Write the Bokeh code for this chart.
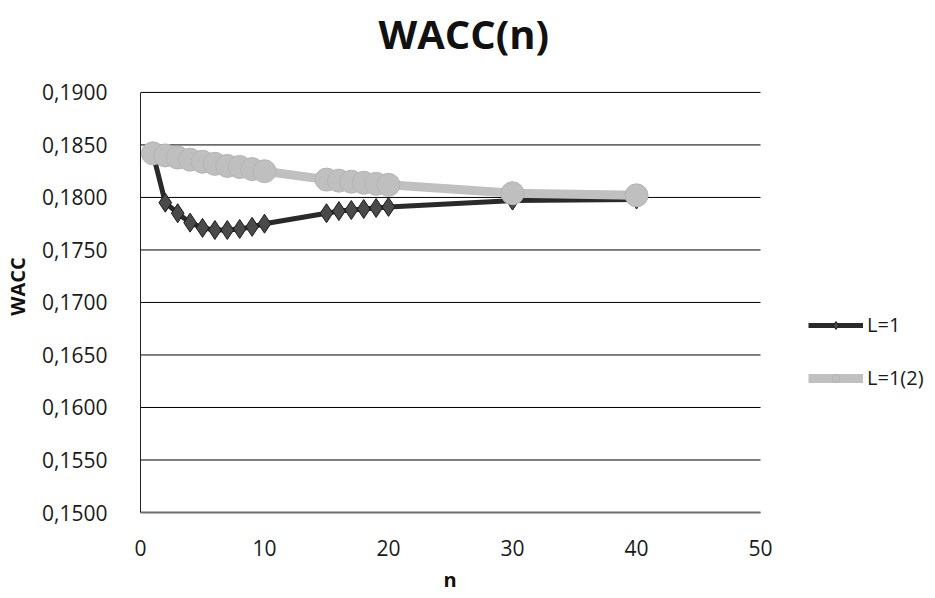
from bokeh.plotting import figure
from bokeh.models import Range1d, FixedTicker, CustomJSTickFormatter, Legend, LegendItem, Title
from bokeh.embed import file_html
from bokeh.resources import INLINE

# WACC as a function of n for two leverage settings
n_values = [1, 2, 3, 4, 5, 6, 7, 8, 9, 10, 15, 16, 17, 18, 19, 20, 30, 40]
wacc_l1 = [0.1842, 0.1795, 0.1785, 0.1776, 0.1771, 0.1769, 0.1769, 0.1770, 0.1772,
           0.1775, 0.1785, 0.1787, 0.1788, 0.1789, 0.1790, 0.1791, 0.1797, 0.1798]
wacc_l1_2 = [0.1842, 0.1840, 0.1838, 0.1836, 0.1834, 0.1832, 0.1830, 0.1829, 0.1827,
             0.1825, 0.1817, 0.1816, 0.1815, 0.1814, 0.1813, 0.1812, 0.1804, 0.1802]
series_names = ["L=1", "L=1(2)"]
y_ticks = [0.150, 0.155, 0.160, 0.165, 0.170, 0.175, 0.180, 0.185, 0.190]
x_ticks = [0, 10, 20, 30, 40, 50]
x_min, x_max = 0, 50
y_min, y_max = 0.15, 0.19

FONT = "Open Sans"

# The frame reaches the right edge (room for the legend) and extends up to the
# title; axis and grid lines are bounded to the 0..50 / 0.15..0.19 box.
p = figure(width=935, height=598, output_backend="svg", toolbar_location=None,
           x_range=Range1d(x_min, 64.11), y_range=Range1d(y_min, 0.19304),
           min_border_left=140, min_border_right=0,
           min_border_top=60, min_border_bottom=85,
           title="WACC(n)")

p.title.text_font = FONT
p.title.text_font_size = "40px"
p.title.text_font_style = "bold"
p.title.text_color = "#111111"
p.title.align = "left"
p.title.offset = 238
p.title.standoff = 0

p.outline_line_color = None
p.background_fill_color = "white"
p.border_fill_color = "white"

# axes
p.xaxis.ticker = FixedTicker(ticks=x_ticks)
p.yaxis.ticker = FixedTicker(ticks=y_ticks)
p.xaxis.bounds = (x_min, x_max)
p.yaxis.bounds = (y_min, y_max)
p.yaxis.formatter = CustomJSTickFormatter(code="return tick.toFixed(4).replace('.', ',');")
for ax in (p.xaxis[0], p.yaxis[0]):
    ax.major_label_text_font = FONT
    ax.major_label_text_font_size = "21px"
    ax.major_label_text_color = "#1a1a1a"
    ax.axis_label_text_font = FONT
    ax.axis_label_text_font_size = "20px"
    ax.axis_label_text_font_style = "bold"
    ax.axis_label_text_color = "#111111"
    ax.major_tick_line_color = None
    ax.minor_tick_line_color = None

p.yaxis.axis_label = "WACC"
p.xaxis.axis_line_color = "#6e6e6e"
p.xaxis.axis_line_width = 2
p.yaxis.axis_line_color = "#222222"
p.yaxis.axis_line_width = 1
p.xaxis.major_label_standoff = 21
p.yaxis.major_label_standoff = 27
p.yaxis.axis_label_standoff = 8

# x axis title, centred under the 0..50 span
x_title = Title(text="n", align="left", offset=303, standoff=11,
                text_font=FONT, text_font_size="20px", text_font_style="bold",
                text_color="#111111")
p.add_layout(x_title, "below")

# horizontal gridlines across the 0..50 span only
p.xgrid.grid_line_color = None
p.ygrid.grid_line_color = None
p.segment(x0=[x_min] * len(y_ticks), x1=[x_max] * len(y_ticks), y0=y_ticks, y1=y_ticks,
          line_color="#000000", line_width=1)

# series L=1: dark line with diamonds
r1_line = p.line(n_values, wacc_l1, line_color="#2a2a2a", line_width=5, line_join="round")
r1_pts = p.scatter(n_values, wacc_l1, marker="diamond", size=19,
                   fill_color="#4a4a4a", line_color="#1c1c1c", line_width=1)

# series L=1(2): light line with circles
r2_line = p.line(n_values, wacc_l1_2, line_color="#c0c0c0", line_width=9, line_join="round")
r2_pts = p.scatter(n_values, wacc_l1_2, marker="circle", size=23,
                   fill_color="#bfbfbf", line_color="#b4b4b4", line_width=1)

legend = Legend(items=[
    LegendItem(label=series_names[0], renderers=[r1_line, r1_pts]),
    LegendItem(label=series_names[1], renderers=[r2_line, r2_pts]),
], location=(668, 121))
legend.label_text_font = FONT
legend.label_text_font_size = "20px"
legend.label_text_color = "#1a1a1a"
legend.glyph_width = 55
legend.glyph_height = 20
legend.label_height = 20
legend.label_standoff = 4
legend.spacing = 26
legend.padding = 0
legend.margin = 0
legend.border_line_color = None
legend.background_fill_alpha = 0
p.add_layout(legend, "center")

open("out.html", "w").write(file_html(p, INLINE))
